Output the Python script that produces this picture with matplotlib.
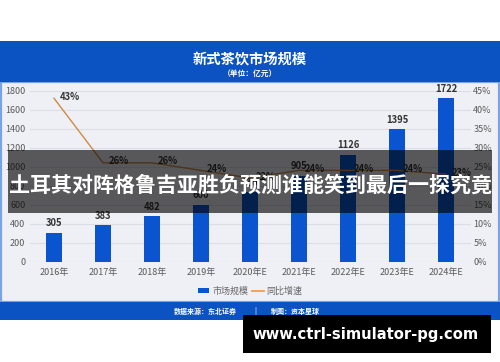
import matplotlib
matplotlib.use("Agg")
import matplotlib.pyplot as plt
from matplotlib.patches import Rectangle
from matplotlib.lines import Line2D
from matplotlib.patches import Patch

plt.rcParams['font.family'] = ['Noto Sans CJK SC', 'DejaVu Sans']

years = ['2016年', '2017年', '2018年', '2019年', '2020年E', '2021年E', '2022年E', '2023年E', '2024年E']
market = [305, 383, 482, 600, 730, 905, 1126, 1395, 1722]
growth = [43, 26, 26, 24, 22, 24, 24, 24, 23]
left_ticks = [0, 200, 400, 600, 800, 1000, 1200, 1400, 1600, 1800]
right_ticks = [0, 5, 10, 15, 20, 25, 30, 35, 40, 45]

W, H = 500, 362
fig = plt.figure(figsize=(W / 100, H / 100), dpi=100)
fig.patch.set_facecolor('white')

def frect(x0, y0, x1, y1, **kw):
    r = Rectangle((x0 / W, 1 - y1 / H), (x1 - x0) / W, (y1 - y0) / H,
                  transform=fig.transFigure, **kw)
    fig.patches.append(r)
    return r

BLUE = '#0b52c2'
# panel
frect(0.8, 82, 499.2, 302, facecolor='#eff0f5', edgecolor='#7aa3e3', lw=1.6, zorder=-6)
# header & footer
frect(0, 41, 500, 82, facecolor=BLUE, edgecolor='none', zorder=-5)
frect(0, 302, 500, 320, facecolor=BLUE, edgecolor='none', zorder=-5)

fig.text(250 / W, 1 - 60 / H, '新式茶饮市场规模', color='white', fontsize=10.3,
         fontweight='bold', ha='center', va='center')
fig.text(250 / W, 1 - 73 / H, '（单位：亿元）', color='white', fontsize=5.6,
         fontweight='bold', ha='center', va='center')
fig.text(205 / W, 1 - 311 / H, '数据来源：东北证券', color='white', fontsize=5,
         fontweight='bold', ha='center', va='center')
fig.text(255 / W, 1 - 311 / H, '|', color='white', fontsize=5,
         ha='center', va='center')
fig.text(295 / W, 1 - 311 / H, '制图：资本星球', color='white', fontsize=5,
         fontweight='bold', ha='center', va='center')

# axes
x0, x1 = 29.5, 470.5
ytop, ybot = 90.7, 261.5
ax = fig.add_axes([x0 / W, 1 - ybot / H, (x1 - x0) / W, (ybot - ytop) / H])
ax.set_facecolor('none')
xs = list(range(len(years)))
ax.bar(xs, market, width=0.33, color='#0a55cf', zorder=3)
ax.set_xlim(-0.5, len(years) - 0.5)
ax.set_ylim(0, 1800)
ax.set_yticks(left_ticks)
ax.set_xticks(xs)
ax.set_xticklabels(years)
ax.grid(axis='y', color='#dcdde6', lw=0.8, zorder=0)
for s in ax.spines.values():
    s.set_visible(False)
ax.tick_params(axis='both', length=0, labelsize=6.5, colors='#5a5a5a')
ax.tick_params(axis='y', pad=3)
ax.tick_params(axis='x', pad=5)
for xi, v in zip(xs, market):
    ax.annotate(str(v), (xi, v), xytext=(0, 3), textcoords='offset points',
                ha='center', va='bottom', fontsize=6.8, fontweight='bold', color='#333333', zorder=5)

ax2 = ax.twinx()
ax2.set_ylim(0, 45)
ax2.set_yticks(right_ticks)
ax2.set_yticklabels([f'{t}%' for t in right_ticks])
for s in ax2.spines.values():
    s.set_visible(False)
ax2.tick_params(axis='y', length=0, labelsize=6.5, colors='#5a5a5a', pad=2)
ax2.plot(xs, growth, color='#cf8a45', lw=1.0, zorder=4)
for xi, g in zip(xs, growth):
    ax2.annotate(f'{g}%', (xi, g), xytext=(4, 1), textcoords='offset points',
                 ha='left', va='center', fontsize=6.8, fontweight='bold', color='#333333', zorder=5)

# legend
handles = [Patch(facecolor='#0a55cf', edgecolor='none'),
           Line2D([0], [0], color='#f0a050', lw=1.3)]
fig.legend(handles, ['市场规模', '同比增速'], loc='center', bbox_to_anchor=(250 / W, 1 - 291 / H),
           ncol=2, frameon=False, fontsize=6.5, handlelength=1.3, handleheight=0.6,
           columnspacing=0.4, handletextpad=0.3, labelcolor='#666666')

# overlay banner
frect(8, 150, 492, 213, facecolor='black', alpha=0.63, edgecolor='none', zorder=10)
fig.text(250 / W, 1 - 185 / H, '土耳其对阵格鲁吉亚胜负预测谁能笑到最后一探究竟', color='white',
         fontsize=15.1, fontweight='bold', ha='center', va='center', zorder=11)

# watermark
frect(243, 315, 491, 353, facecolor='black', edgecolor='none', zorder=10)
fig.text(366 / W, 1 - 334 / H, 'www.ctrl-simulator-pg.com', color='white',
         fontsize=10.6, fontweight='bold', ha='center', va='center',
         family='DejaVu Sans', zorder=11)

fig.savefig('out.png', dpi=100)
